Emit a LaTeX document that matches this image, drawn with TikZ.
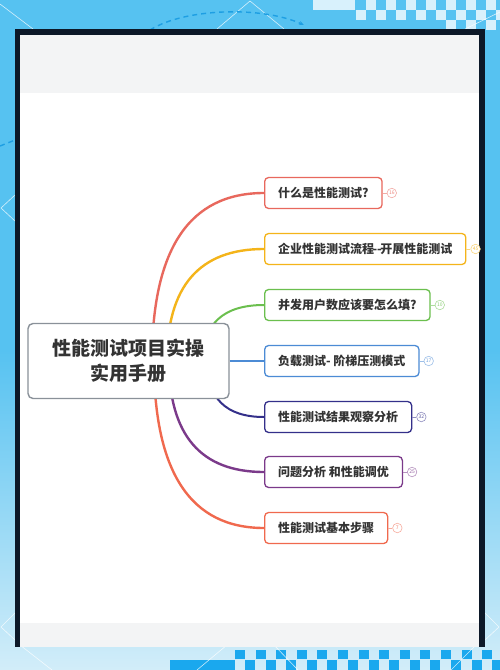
\documentclass[tikz,border=0pt]{standalone}
\usepackage{fontspec}
\setmainfont{Noto Sans CJK SC}
\usetikzlibrary{positioning, arrows.meta, calc}

\definecolor{skyTop}{HTML}{56C2F1}
\definecolor{skyBot}{HTML}{D2EDF9}
\definecolor{checkPale}{HTML}{D8F1FC}
\definecolor{checkBlue}{HTML}{1AA8EE}
\definecolor{dashBlue}{HTML}{1E9FE3}
\definecolor{frameNavy}{HTML}{0C1828}
\definecolor{bandGray}{HTML}{F3F4F5}
\definecolor{topicGray}{HTML}{8A9199}
\definecolor{inkGray}{HTML}{333333}
\definecolor{brRed}{HTML}{E8685D}
\definecolor{brYellow}{HTML}{F4B41A}
\definecolor{brGreen}{HTML}{6BBF4E}
\definecolor{brBlue}{HTML}{4C8BD5}
\definecolor{brIndigo}{HTML}{34308A}
\definecolor{brPurple}{HTML}{7B3A8A}
\definecolor{brCoral}{HTML}{F0694E}

\begin{document}
\begin{tikzpicture}[
  x=1pt, y=-1pt,
  % Estilos de nodos
  topic/.style={draw=topicGray, line width=1.4pt, rounded corners=5pt, fill=white,
    minimum width=201pt, minimum height=75pt, align=center, text=inkGray,
    font=\fontsize{19}{25}\selectfont\bfseries},
  sub/.style={draw=#1, line width=1.3pt, rounded corners=4pt, fill=white,
    minimum height=31pt, inner xsep=13.5pt, text=inkGray,
    font=\fontsize{12}{14}\selectfont\bfseries},
  badge/.style={circle, draw=#1!55, line width=0.6pt, minimum size=9.5pt, inner sep=0pt,
    fill=white, text=#1!80, font=\fontsize{5}{5}\selectfont},
  % Estilos de lineas
  branch/.style={draw=#1, line width=2.4pt},
  badgeline/.style={draw=#1!55, line width=0.6pt},
  deco/.style={draw=white, opacity=0.75, line width=0.6pt},
  dashArc/.style={draw=dashBlue, line width=1.4pt, dash pattern=on 5pt off 4pt}
]
  \useasboundingbox (0,0) rectangle (500,670);

  % ==========================================
  % BACKDROP
  % ==========================================
  \fill[skyTop] (0,0) rectangle (500,350);
  \shade[top color=skyTop, bottom color=skyBot] (0,350) rectangle (500,670);

  % checkers, top right
  \fill[checkPale] (313,0) rectangle (355,10);
  \foreach \i in {0,...,6} \fill[checkPale] (366+20*\i,0) rectangle +(10,10);
  \foreach \i in {0,...,7} \fill[checkPale] (356+20*\i,10) rectangle +(10,10);
  \foreach \i in {0,...,2} \fill[checkPale] (446+20*\i,20) rectangle +(10,10);

  % checkers, bottom
  \fill[checkBlue] (170,660) rectangle (235,670);
  \foreach \i in {0,...,12} \fill[checkBlue] (235+20.6*\i,650) rectangle +(10,9);
  \foreach \i in {0,...,12} \fill[checkBlue] (245+20.6*\i,660) rectangle +(10,10);

  % thin white lines
  \draw[deco] (0,4) -- (33,29);
  \draw[deco] (217,29) -- (250,1) -- (284,29);
  \draw[deco] (500,12) -- (465,29);
  \draw[deco] (15,195) -- (1,208) -- (15,221);
  \draw[deco] (15,613) -- (1,627) -- (15,640);
  \draw[deco] (20,645) -- (52,670);
  \draw[deco] (227,645) -- (197,670);
  \draw[deco] (274,645) -- (298,670);
  \draw[deco] (479,642) -- (451,670);
  \draw[deco] (485,613) -- (499,627) -- (485,640);

  % dashed arcs
  \draw[dashArc, -{Stealth[length=5pt]}] (150,30) .. controls (185,8) and (262,6) .. (304,25);
  \draw[dashArc] (0,146) -- (15,140);

  % frame
  \fill[frameNavy] (15,29) rectangle (485,647);
  \fill[white] (20,35) rectangle (479,647);
  \fill[bandGray] (20,35) rectangle (479,93);
  \fill[bandGray] (20,623) rectangle (479,647);

  % ==========================================
  % SUBTOPICS
  % ==========================================
  \node[sub=brRed, anchor=west] (b1) at (264,193) {什么是性能测试?};
  \node[sub=brYellow, below=56pt of b1.west, anchor=west] (b2) {企业性能测试流程\kern-1.5pt-{}-\kern-1.5pt开展性能测试};
  \node[sub=brGreen, below=56pt of b2.west, anchor=west] (b3) {并发用户数应该要怎么填?};
  \node[sub=brBlue, below=56pt of b3.west, anchor=west] (b4) {负载测试- 阶梯压测模式};
  \node[sub=brIndigo, below=56pt of b4.west, anchor=west] (b5) {性能测试结果观察分析};
  \node[sub=brPurple, below=55pt of b5.west, anchor=west] (b6) {问题分析 和性能调优};
  \node[sub=brCoral, below=56pt of b6.west, anchor=west] (b7) {性能测试基本步骤};

  % counters
  \node[badge=brRed, right=4pt of b1] (n1) {16};
  \node[badge=brYellow, right=4pt of b2] (n2) {45};
  \node[badge=brGreen, right=4pt of b3] (n3) {10};
  \node[badge=brBlue, right=4pt of b4] (n4) {17};
  \node[badge=brIndigo, right=4pt of b5] (n5) {32};
  \node[badge=brPurple, right=4pt of b6] (n6) {25};
  \node[badge=brCoral, right=4pt of b7] (n7) {7};
  \draw[badgeline=brRed] (b1) -- (n1);
  \draw[badgeline=brYellow] (b2) -- (n2);
  \draw[badgeline=brGreen] (b3) -- (n3);
  \draw[badgeline=brBlue] (b4) -- (n4);
  \draw[badgeline=brIndigo] (b5) -- (n5);
  \draw[badgeline=brPurple] (b6) -- (n6);
  \draw[badgeline=brCoral] (b7) -- (n7);

  % ==========================================
  % BRANCHES (behind the main topic)
  % ==========================================
  \coordinate (r1) at (152,361);
  \coordinate (r2) at (167,361);
  \coordinate (r3) at (203,361);
  \coordinate (r5) at (207,361);
  \coordinate (r6) at (169,361);
  \coordinate (r7) at (154,361);

  \draw[branch=brRed] (r1) .. controls ($(r1)!0.667!(r1 |- b1.west)$) and ($(b1.west)!0.667!(r1 |- b1.west)$) .. (b1.west);
  \draw[branch=brYellow] (r2) .. controls ($(r2)!0.667!(r2 |- b2.west)$) and ($(b2.west)!0.667!(r2 |- b2.west)$) .. (b2.west);
  \draw[branch=brGreen, line width=2pt] (r3) .. controls ($(r3)!0.667!(r3 |- b3.west)$) and ($(b3.west)!0.667!(r3 |- b3.west)$) .. (b3.west);
  \draw[branch=brIndigo, line width=2pt] (r5) .. controls ($(r5)!0.667!(r5 |- b5.west)$) and ($(b5.west)!0.667!(r5 |- b5.west)$) .. (b5.west);
  \draw[branch=brPurple] (r6) .. controls ($(r6)!0.667!(r6 |- b6.west)$) and ($(b6.west)!0.667!(r6 |- b6.west)$) .. (b6.west);
  \draw[branch=brCoral] (r7) .. controls ($(r7)!0.667!(r7 |- b7.west)$) and ($(b7.west)!0.667!(r7 |- b7.west)$) .. (b7.west);

  % ==========================================
  % MAIN TOPIC
  % ==========================================
  \node[topic] (hub) at (128.5,361) {性能测试项目实操\\实用手册};
  \draw[branch=brBlue, line width=2pt] (hub.east) -- (b4.west);

\end{tikzpicture}
\end{document}
